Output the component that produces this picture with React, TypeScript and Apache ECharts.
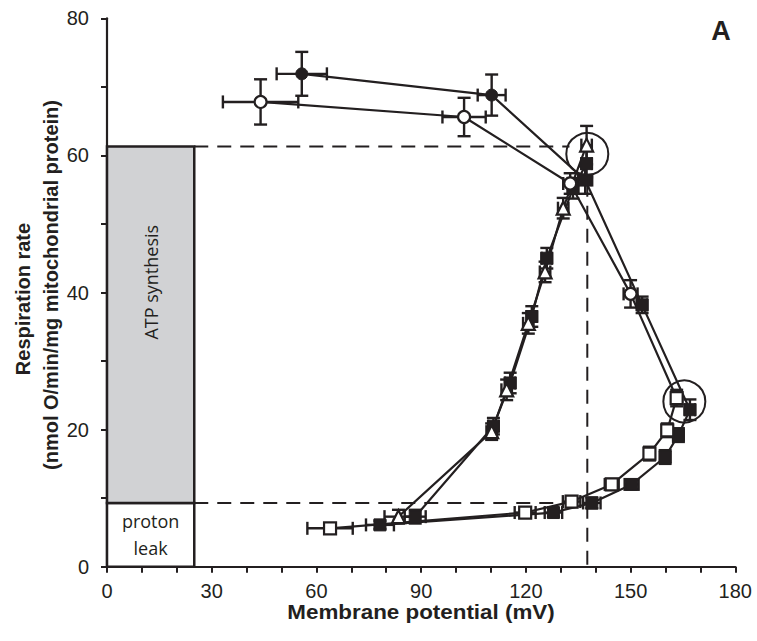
import React, { useEffect, useRef } from "react";
import * as echarts from "echarts";

// ---- data ----
const xTicks = [0, 30, 60, 90, 120, 150, 180];
const yTicks = [0, 20, 40, 60, 80];

// hollow chain: circles (uncoupler titration) then squares down
const openX = [44, 102.3, 132.7, 150, 163.2, 160.5, 155.4, 144.6, 133.1, 119.8, 63.9];
const openY = [67.8, 65.6, 55.9, 39.8, 24.6, 19.9, 16.5, 12.0, 9.5, 7.9, 5.6];
const openXErr = [10.8, 6.2, 2, 2, 1.5, 1.5, 1.5, 2, 2.5, 3, 6.5];
const openYErr = [3.3, 2.8, 1.5, 2, 1.2, 1, 1, 0.8, 0.8, 0.6, 0.5];
const openSym = ["circle", "circle", "circle", "circle", "rect", "rect", "rect", "rect", "rect", "rect", "rect"];

// filled chain
const fillX = [55.8, 110.2, 137, 153.3, 167, 163.7, 159.9, 150.3, 138.9, 127.9, 78.2];
const fillY = [71.9, 68.8, 56.4, 38.2, 22.9, 19.2, 16.0, 12.0, 9.3, 7.9, 6.1];
const fillXErr = [7.2, 4, 2, 1.5, 1.5, 1.5, 1.5, 2, 2.5, 2.5, 4];
const fillYErr = [3.2, 3, 2, 1.2, 1.5, 1, 1, 0.7, 0.8, 0.6, 0.6];
const fillSym = ["circle", "circle", "rect", "rect", "rect", "rect", "rect", "rect", "rect", "rect", "rect"];

// ascending chains
const triX = [83.5, 110.2, 114.5, 120.7, 125.5, 130.7, 137.4];
const triY = [7.3, 19.7, 25.8, 35.5, 43, 52.3, 61.5];
const triXErr = [4, 1.5, 1.5, 1.5, 1.5, 1.5, 1.5];
const triYErr = [1, 1.2, 1.5, 1.5, 1.5, 1.5, 2.8];

const ascX = [88.3, 110.7, 115.5, 121.7, 126, 133.5, 137.4];
const ascY = [7.3, 20.5, 26.8, 36.5, 45, 55.2, 58.8];
const ascXErr = [3, 1.5, 1.5, 1.5, 1.5, 1.5, 1.5];
const ascYErr = [1, 1.2, 1.5, 1.5, 1.5, 1.5, 2];

// reference boxes: [x0, y0, x1, y1]
const leakBox = [0, 0, 25, 9.3];
const atpBox = [0, 9.3, 25, 61.3];
const leakLabel = "proton\nleak";
const atpLabel = "ATP synthesis";

// dashed guides
const dashUpper = [[25, 61.3], [132.5, 61.3]];
const dashLower = [[25, 9.3], [137.6, 9.3]];
const dashVert = [[137.6, 56], [137.6, 0]];

// highlighted points (circles)
const highlights = [[137.6, 60.2], [165.4, 24.1]];

const INK = "#231f20";

function zip(xs: number[], ys: number[], xe: number[], ye: number[]) {
  return xs.map((x, i) => [x, ys[i], xe[i], ye[i]]);
}

function errSeries(data: number[][]) {
  return {
    type: "custom",
    z: 2,
    silent: true,
    encode: { x: 0, y: 1 },
    data,
    renderItem: (_p: any, api: any) => {
      const x = api.value(0), y = api.value(1), xe = api.value(2), ye = api.value(3);
      const l = api.coord([x - xe, y]);
      const r = api.coord([x + xe, y]);
      const t = api.coord([x, y + ye]);
      const b = api.coord([x, y - ye]);
      const cap = 6.5;
      const st = { stroke: INK, lineWidth: 2.4 };
      return {
        type: "group",
        children: [
          { type: "line", shape: { x1: l[0], y1: l[1], x2: r[0], y2: r[1] }, style: st },
          { type: "line", shape: { x1: l[0], y1: l[1] - cap, x2: l[0], y2: l[1] + cap }, style: st },
          { type: "line", shape: { x1: r[0], y1: r[1] - cap, x2: r[0], y2: r[1] + cap }, style: st },
          { type: "line", shape: { x1: t[0], y1: t[1], x2: b[0], y2: b[1] }, style: st },
          { type: "line", shape: { x1: t[0] - cap, y1: t[1], x2: t[0] + cap, y2: t[1] }, style: st },
          { type: "line", shape: { x1: b[0] - cap, y1: b[1], x2: b[0] + cap, y2: b[1] }, style: st },
        ],
      };
    },
  };
}

function chainSeries(xs: number[], ys: number[], syms: string[] | string, hollow: boolean, size: number) {
  return {
    type: "line",
    z: 4,
    data: xs.map((x, i) => ({
      value: [x, ys[i]],
      symbol: Array.isArray(syms) ? syms[i] : syms,
    })),
    symbolSize: size,
    showAllSymbol: true,
    lineStyle: { color: INK, width: 2.2 },
    itemStyle: hollow
      ? { color: "#ffffff", borderColor: INK, borderWidth: 2.2 }
      : { color: INK, borderColor: INK, borderWidth: 1 },
    emphasis: { disabled: true },
  };
}

function dashSeries(pts: number[][]) {
  return {
    type: "line",
    z: 1,
    data: pts,
    symbol: "none",
    lineStyle: { color: INK, width: 2, type: [14, 9] },
    emphasis: { disabled: true },
  };
}

const boldName = {
  fill: INK,
  fontSize: 20,
  fontWeight: "bold",
  fontFamily: "Liberation Sans, Arial, sans-serif",
  textAlign: "center",
  textVerticalAlign: "middle",
};

export default function App() {
  const ref = useRef<HTMLDivElement>(null);
  useEffect(() => {
    if (!ref.current) return;
    const chart = echarts.init(ref.current, null, { renderer: "svg" });
    const boxes = [
      [...leakBox, 0],
      [...atpBox, 1],
    ];
    chart.setOption({
      animation: false,
      grid: { left: 107, right: 21.7, top: 18.3, bottom: 74.3 },
      xAxis: {
        type: "value",
        min: 0,
        max: 180,
        interval: 10,
        splitLine: { show: false },
        axisLine: { lineStyle: { color: INK, width: 2.2 } },
        axisTick: { length: 6, lineStyle: { color: INK, width: 2 } },
        axisLabel: {
          color: INK,
          fontSize: 20,
          fontFamily: "Liberation Sans, Arial, sans-serif",
          margin: 14,
          formatter: (v: number) => (xTicks.includes(v) ? String(v) : ""),
        },
      },
      yAxis: {
        type: "value",
        min: 0,
        max: 80,
        interval: 10,
        splitLine: { show: false },
        axisLine: { lineStyle: { color: INK, width: 2.2 } },
        axisTick: { length: 6, lineStyle: { color: INK, width: 2 } },
        axisLabel: {
          color: INK,
          fontSize: 20,
          fontFamily: "Liberation Sans, Arial, sans-serif",
          margin: 18,
          formatter: (v: number) => (yTicks.includes(v) ? String(v) : ""),
        },
      },
      series: [
        {
          type: "custom",
          z: 1,
          silent: true,
          encode: { x: [0, 2], y: [1, 3] },
          data: boxes,
          renderItem: (_p: any, api: any) => {
            const x0 = api.value(0), y0 = api.value(1), x1 = api.value(2), y1 = api.value(3);
            const kind = api.value(4);
            const a = api.coord([x0, y1]);
            const b = api.coord([x1, y0]);
            const cx = (a[0] + b[0]) / 2;
            const rect = {
              type: "rect",
              shape: { x: a[0], y: a[1], width: b[0] - a[0], height: b[1] - a[1] },
              style: { fill: kind === 1 ? "#d1d2d4" : "#ffffff", stroke: INK, lineWidth: 2.5 },
            };
            const label =
              kind === 1
                ? {
                    type: "text",
                    x: cx,
                    y: api.coord([0, 41.5])[1],
                    rotation: Math.PI / 2,
                    style: {
                      text: atpLabel,
                      fill: INK,
                      fontSize: 18,
                      fontFamily: "Open Sans",
                      textAlign: "center",
                      textVerticalAlign: "middle",
                    },
                  }
                : {
                    type: "text",
                    x: cx,
                    y: (a[1] + b[1]) / 2,
                    style: {
                      text: leakLabel,
                      fill: INK,
                      fontSize: 18,
                      fontFamily: "Open Sans",
                      lineHeight: 27,
                      textAlign: "center",
                      textVerticalAlign: "middle",
                    },
                  };
            return { type: "group", children: [rect, label] };
          },
        },
        dashSeries(dashUpper),
        dashSeries(dashLower),
        dashSeries(dashVert),
        errSeries(zip(openX, openY, openXErr, openYErr)),
        errSeries(zip(fillX, fillY, fillXErr, fillYErr)),
        errSeries(zip(triX, triY, triXErr, triYErr)),
        errSeries(zip(ascX, ascY, ascXErr, ascYErr)),
        chainSeries(ascX, ascY, "rect", false, 12),
        chainSeries(triX, triY, "triangle", true, 13),
        chainSeries(fillX, fillY, fillSym, false, 12),
        chainSeries(openX, openY, openSym, true, 12),
        {
          type: "custom",
          z: 5,
          silent: true,
          encode: { x: 0, y: 1 },
          data: highlights,
          renderItem: (_p: any, api: any) => {
            const c = api.coord([api.value(0), api.value(1)]);
            return {
              type: "circle",
              shape: { cx: c[0], cy: c[1], r: 21 },
              style: { fill: "none", stroke: INK, lineWidth: 2 },
            };
          },
        },
      ],
      graphic: [
        {
          type: "text",
          x: 721,
          y: 31,
          style: { ...boldName, text: "A", fontSize: 27 },
        },
        {
          type: "text",
          x: 421,
          y: 612,
          scaleX: 1.12,
          style: { ...boldName, text: "Membrane potential (mV)" },
        },
        {
          type: "text",
          x: 23,
          y: 299,
          rotation: Math.PI / 2,
          style: { ...boldName, text: "Respiration rate" },
        },
        {
          type: "text",
          x: 51,
          y: 285,
          rotation: Math.PI / 2,
          style: { ...boldName, text: "(nmol O/min/mg mitochondrial protein)" },
        },
      ],
    });
    return () => chart.dispose();
  }, []);
  return (
    <div
      ref={ref}
      style={{ position: "absolute", left: 0, top: 0, width: 757, height: 641, background: "#fff" }}
    />
  );
}
